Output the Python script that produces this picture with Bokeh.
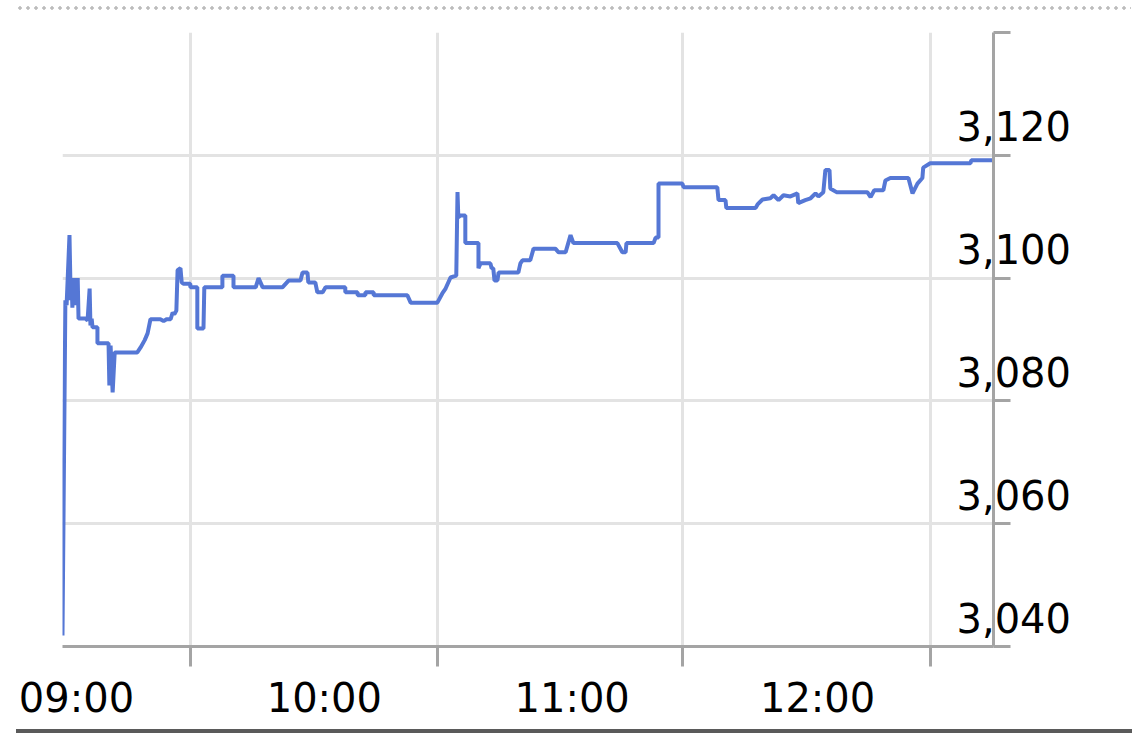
from bokeh.plotting import figure
from bokeh.models import FixedTicker, LinearAxis, Range1d, Div, ColumnDataSource
from bokeh.layouts import column
from bokeh.embed import file_html
from bokeh.resources import INLINE

# ---- data (minutes on the compressed session axis, index price) ----
minutes = [0, 0.7, 1.0, 1.7, 2.0, 2.2, 2.4, 2.7, 2.9, 3.2, 3.4, 3.7, 3.9, 5.6, 6.1, 6.6, 6.8, 7.1, 7.3, 8.5,
           8.5, 11.2, 11.4, 11.7, 12.2, 12.7, 18.2, 19.0, 20.0, 20.7, 21.4, 23.8, 24.6, 25.3, 26.3, 26.8, 27.2, 27.7,
           28.0, 28.7, 29.0, 29.4, 31.1, 31.1, 32.8, 32.8, 34.3, 34.5, 38.9, 38.9, 41.6, 41.6, 47.0, 47.7, 48.7,
           53.5, 55.0, 57.9, 58.4, 59.6, 59.8, 61.5, 62.0, 63.3, 64.0, 68.8, 68.8, 71.8, 71.8, 73.7, 73.7, 75.7,
           75.7, 83.9, 84.7, 91.2, 92.4, 93.2, 94.4, 95.8, 96.1, 96.3, 96.8, 98.0, 98.0, 101.2, 101.2, 101.7,
           104.1, 104.4, 104.8, 105.1, 105.8, 106.1, 110.9, 111.4, 111.9, 113.8, 114.6, 119.9, 120.7, 122.4,
           123.6, 124.3, 135.0, 136.2, 137.0, 137.2, 143.8, 144.3, 145.0, 145.0, 150.8, 151.1, 159.3, 159.6,
           161.3, 161.5, 168.6, 169.1, 170.3, 172.2, 173.0, 174.2, 175.4, 177.1, 178.8, 179.0, 180.7, 182.0,
           183.2, 183.9, 185.1, 185.6, 186.6, 186.8, 188.3, 195.8, 196.6, 197.5, 199.7, 200.2, 201.4, 205.8,
           206.8, 208.0, 209.2, 209.4, 211.1, 220.9, 221.1, 226.5]
prices = [3041.8, 3096.4, 3095.6, 3107.0, 3096.4, 3100.0, 3095.2, 3100.0, 3095.6, 3100.0, 3096.4, 3100.0,
          3093.4, 3093.4, 3093.1, 3098.3, 3092.3, 3093.4, 3092.0, 3092.0, 3089.4, 3089.4, 3082.5, 3089.0,
          3081.4, 3087.9, 3087.9, 3088.7, 3089.9, 3091.0, 3093.3, 3093.3, 3093.0, 3093.3, 3093.3, 3094.4,
          3094.1, 3094.7, 3101.3, 3101.6, 3099.3, 3099.1, 3099.1, 3098.5, 3098.5, 3091.8, 3091.8, 3098.5,
          3098.5, 3100.4, 3100.4, 3098.5, 3098.5, 3100.0, 3098.5, 3098.5, 3099.6, 3099.6, 3100.9, 3100.9,
          3099.3, 3099.3, 3097.7, 3097.7, 3098.5, 3098.5, 3097.7, 3097.7, 3097.2, 3097.2, 3097.7, 3097.7,
          3097.2, 3097.2, 3096.0, 3096.0, 3097.5, 3098.3, 3100.1, 3100.4, 3114.0, 3109.9, 3110.2, 3110.2,
          3105.7, 3105.7, 3101.6, 3102.4, 3102.4, 3101.6, 3101.6, 3099.6, 3099.6, 3100.9, 3100.9, 3102.4,
          3102.9, 3102.9, 3104.8, 3104.8, 3104.2, 3104.2, 3107.0, 3105.7, 3105.7, 3104.2, 3104.2, 3105.7,
          3105.7, 3106.6, 3106.6, 3115.4, 3115.4, 3114.8, 3114.8, 3112.7, 3112.7, 3111.4, 3111.4, 3112.0,
          3112.8, 3113.0, 3113.5, 3112.7, 3113.5, 3113.3, 3113.8, 3112.2, 3112.7, 3113.0, 3113.8, 3113.3,
          3114.0, 3117.6, 3117.6, 3114.6, 3114.0, 3114.0, 3113.2, 3114.3, 3114.3, 3115.9, 3116.3, 3116.3,
          3113.8, 3115.4, 3116.3, 3118.0, 3118.7, 3118.7, 3119.2, 3119.2]

grid_minutes = [31.1, 91.2, 150.8, 211.1]
time_label_minutes = [3.4, 63.7, 124.0, 183.7]
time_labels = ["09:00", "10:00", "11:00", "12:00"]
price_ticks = [3040, 3060, 3080, 3100, 3120, 3140]
price_label_values = [3040, 3060, 3080, 3100, 3120]
price_labels = ["3,040", "3,060", "3,080", "3,100", "3,120"]
label_lift = 4.7  # labels sit just above their grid line

FONT = "DejaVu Sans"
AXIS_GRAY = "#a4a4a4"
GRID_GRAY = "#e3e3e3"

p = figure(frame_width=931, frame_height=614,
           x_range=Range1d(0, 226.5), y_range=Range1d(3040, 3140),
           y_axis_location="right",
           output_backend="svg", toolbar_location=None,
           min_border_left=62, min_border_top=22, min_border_right=142, min_border_bottom=83,
           outline_line_color=None, background_fill_color="white", border_fill_color="white")

src = ColumnDataSource(dict(t=minutes, v=prices))
p.line("t", "v", source=src, line_color="#5577d5", line_width=4)

# grids
p.xgrid.ticker = FixedTicker(ticks=grid_minutes)
p.ygrid.ticker = FixedTicker(ticks=price_ticks)
p.grid.grid_line_color = GRID_GRAY
p.grid.grid_line_width = 3

# x axis with tick marks (at grid lines), no labels of its own
xa = p.xaxis[0]
xa.ticker = FixedTicker(ticks=grid_minutes)
xa.axis_line_color = AXIS_GRAY
xa.axis_line_width = 3
xa.major_tick_line_color = AXIS_GRAY
xa.major_tick_line_width = 3
xa.major_tick_out = 20
xa.major_tick_in = 0
xa.minor_tick_line_color = None
xa.major_label_text_font_size = "0px"
xa.major_label_text_color = None
xa.major_label_standoff = 0

# x axis carrying the time labels
xl = LinearAxis(ticker=FixedTicker(ticks=time_label_minutes),
                major_label_overrides={m: s for m, s in zip(time_label_minutes, time_labels)},
                axis_line_color=None, major_tick_line_color=None, minor_tick_line_color=None,
                major_label_standoff=2,
                major_label_text_font=FONT, major_label_text_font_size="40px",
                major_label_text_color="black")
p.add_layout(xl, "below")

# right y axis with tick marks, no labels of its own
ya = p.yaxis[0]
ya.ticker = FixedTicker(ticks=price_ticks)
ya.axis_line_color = AXIS_GRAY
ya.axis_line_width = 3
ya.major_tick_line_color = AXIS_GRAY
ya.major_tick_line_width = 3
ya.major_tick_out = 17
ya.major_tick_in = 0
ya.minor_tick_line_color = None
ya.major_label_text_font_size = "0px"
ya.major_label_text_color = None
ya.major_label_standoff = 0

# y axis carrying the price labels
lab_pos = [v + label_lift for v in price_label_values]
yl = LinearAxis(ticker=FixedTicker(ticks=lab_pos),
                major_label_overrides={v: s for v, s in zip(lab_pos, price_labels)},
                axis_line_color=None, major_tick_line_color=None, minor_tick_line_color=None,
                major_label_standoff=-60,
                major_label_text_font=FONT, major_label_text_font_size="40px",
                major_label_text_color="black")
p.add_layout(yl, "right")

top_rule = Div(text="", width=1115, height=4, margin=(6, 0, 0, 16),
               styles={"background-image": "radial-gradient(circle, #bcbcbc 1.5px, transparent 1.9px)",
                       "background-size": "8px 4px", "background-repeat": "repeat-x"})
bottom_rule = Div(text="", width=1116, height=4, margin=(0, 0, 0, 16),
                  styles={"background-color": "#5a5a5a"})

layout = column(top_rule, p, bottom_rule, spacing=0)
open("out.html", "w").write(file_html(layout, INLINE))
